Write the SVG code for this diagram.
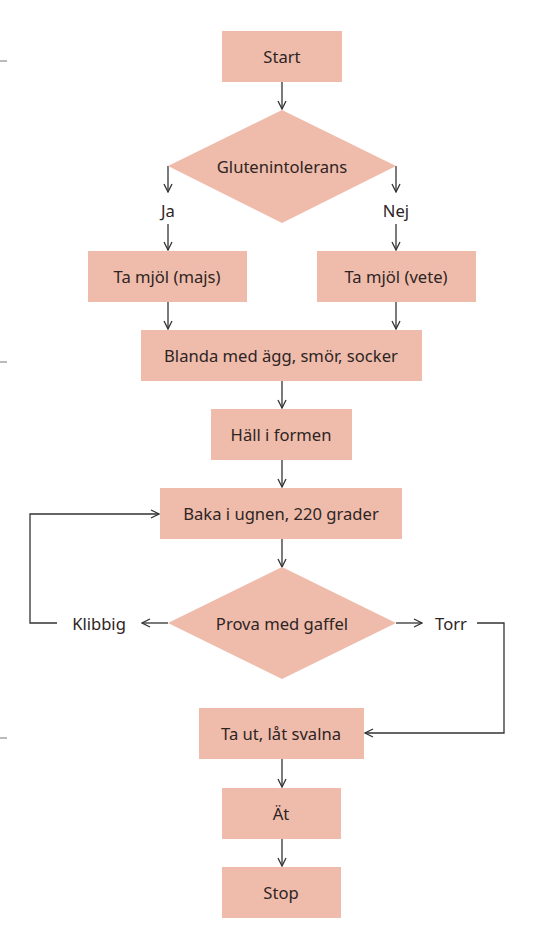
<svg xmlns="http://www.w3.org/2000/svg" width="560" height="950" viewBox="0 0 560 950">
<style>
.box{fill:#efbcab}
.t{font-family:"Noto Sans","Open Sans",sans-serif;font-size:16.6px;fill:#2e2424;text-anchor:middle;dominant-baseline:central}
.c{fill:none;stroke:#333;stroke-width:1.3}
.crop{stroke:#777;stroke-width:1}
</style>
<defs>
<marker id="ah" viewBox="0 0 10 10" refX="9" refY="5" markerWidth="10" markerHeight="10" markerUnits="userSpaceOnUse" orient="auto">
<path d="M1,1 L9,5 L1,9" fill="none" stroke="#333" stroke-width="1.3"/>
</marker>
</defs>
<rect width="560" height="950" fill="#fff"/>
<g id="cropmarks">
<line class="crop" x1="0" y1="61" x2="7" y2="61"/>
<line class="crop" x1="0" y1="362" x2="7" y2="362"/>
<line class="crop" x1="0" y1="738" x2="7" y2="738"/>
</g>
<g id="connectors">
<line class="c" x1="282" y1="82" x2="282" y2="109" marker-end="url(#ah)"/>
<line class="c" x1="168" y1="166" x2="168" y2="192" marker-end="url(#ah)"/>
<line class="c" x1="168" y1="224" x2="168" y2="250" marker-end="url(#ah)"/>
<line class="c" x1="396" y1="166" x2="396" y2="192" marker-end="url(#ah)"/>
<line class="c" x1="396" y1="224" x2="396" y2="250" marker-end="url(#ah)"/>
<line class="c" x1="168" y1="302" x2="168" y2="329" marker-end="url(#ah)"/>
<line class="c" x1="396" y1="302" x2="396" y2="329" marker-end="url(#ah)"/>
<line class="c" x1="282" y1="381" x2="282" y2="408" marker-end="url(#ah)"/>
<line class="c" x1="282" y1="460" x2="282" y2="487" marker-end="url(#ah)"/>
<line class="c" x1="282" y1="539" x2="282" y2="567" marker-end="url(#ah)"/>
<line class="c" x1="168" y1="623" x2="142" y2="623" marker-end="url(#ah)"/>
<polyline class="c" points="57,623 30,623 30,514 159,514" marker-end="url(#ah)"/>
<line class="c" x1="396" y1="623" x2="422" y2="623" marker-end="url(#ah)"/>
<polyline class="c" points="477,623 504,623 504,733 365,733" marker-end="url(#ah)"/>
<line class="c" x1="282" y1="759" x2="282" y2="787" marker-end="url(#ah)"/>
<line class="c" x1="282" y1="839" x2="282" y2="866" marker-end="url(#ah)"/>
<text class="t" x="168" y="210">Ja</text>
<text class="t" x="396" y="210">Nej</text>
<text class="t" x="99" y="623">Klibbig</text>
<text class="t" x="451" y="623">Torr</text>
</g>
<g id="start"><rect class="box" x="222" y="31" width="120" height="51"/><text class="t" x="282" y="56">Start</text></g>
<g id="gluten"><polygon class="box" points="282,110 396,166 282,223 168,166"/><text class="t" x="282" y="166">Glutenintolerans</text></g>
<g id="majs"><rect class="box" x="88" y="251" width="159" height="51"/><text class="t" x="167" y="276">Ta mjöl (majs)</text></g>
<g id="vete"><rect class="box" x="317" y="251" width="159" height="51"/><text class="t" x="396" y="276">Ta mjöl (vete)</text></g>
<g id="blanda"><rect class="box" x="141" y="330" width="281" height="51"/><text class="t" x="281" y="355">Blanda med ägg, smör, socker</text></g>
<g id="hall"><rect class="box" x="211" y="409" width="141" height="51"/><text class="t" x="281" y="434">Häll i formen</text></g>
<g id="baka"><rect class="box" x="160" y="488" width="242" height="51"/><text class="t" x="281" y="513">Baka i ugnen, 220 grader</text></g>
<g id="prova"><polygon class="box" points="282,567 396,623 282,679 168,623"/><text class="t" x="282" y="623">Prova med gaffel</text></g>
<g id="taut"><rect class="box" x="199" y="708" width="165" height="51"/><text class="t" x="281" y="733">Ta ut, låt svalna</text></g>
<g id="at"><rect class="box" x="222" y="788" width="119" height="51"/><text class="t" x="281" y="813">Ät</text></g>
<g id="stop"><rect class="box" x="222" y="867" width="119" height="51"/><text class="t" x="281" y="892">Stop</text></g>
</svg>
